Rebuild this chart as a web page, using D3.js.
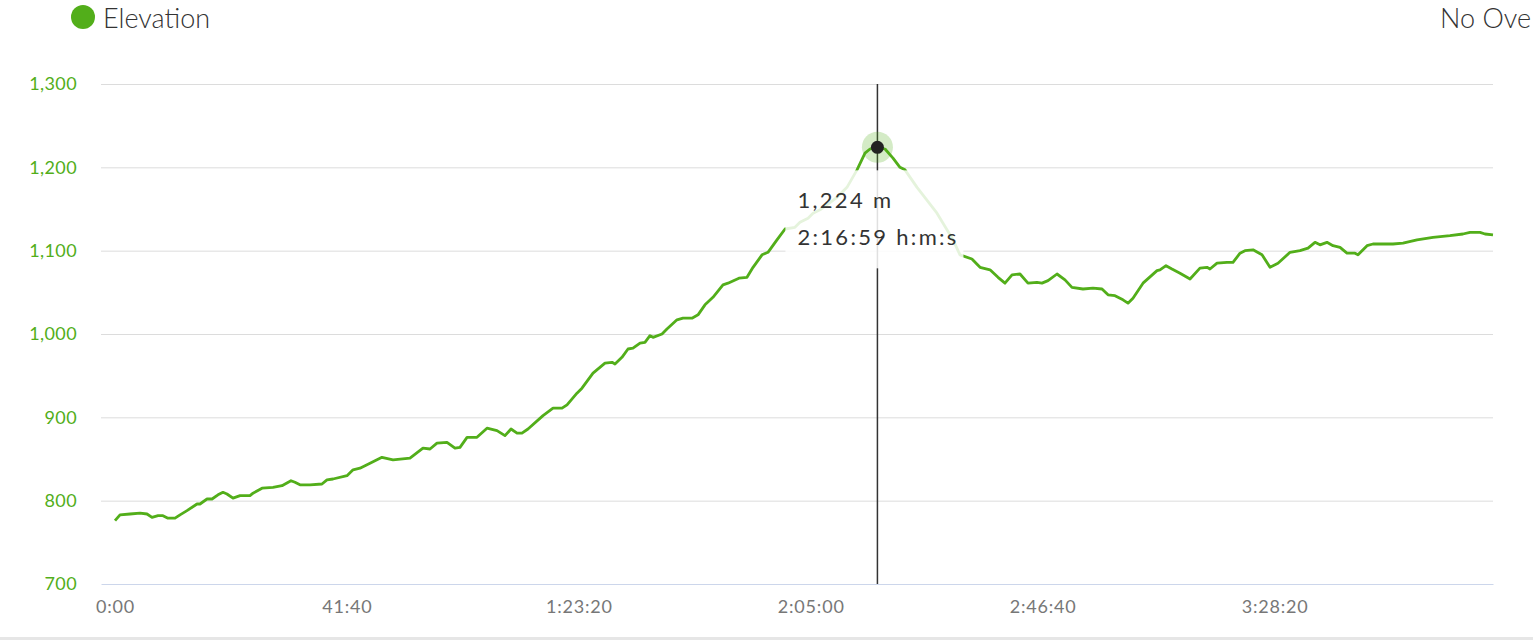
<!DOCTYPE html>
<html>
<head>
<meta charset="utf-8">
<script src="https://cdn.jsdelivr.net/npm/d3@7"></script>
<style>
  body { margin: 0; background: #fff; overflow: hidden; }
  svg { display: block; font-family: Lato, "Open Sans", sans-serif; }
</style>
</head>
<body>
<div id="chart"></div>
<script>
// elapsed time (seconds) and elevation (m)
var times = [0,54,162,270,345,399,464,517,571,647,701,776,884,916,992,1046,1110,1164,1207,1272,
  1348,1455,1488,1585,1703,1800,1897,1940,1994,2102,2231,2285,2350,2501,2566,2641,2749,2878,2997,3180,
  3320,3396,3471,3579,3665,3719,3795,3902,4010,4118,4204,4269,4334,4387,4452,4614,4722,4819,4873,4980,
  5034,5153,5282,5358,5390,5465,5530,5584,5660,5713,5767,5800,5897,5950,6058,6123,6220,6285,6360,6446,
  6554,6608,6726,6813,6878,6975,7039,7136,7223,7330,7384,7471,7525,7600,7675,7783,7891,7999,8085,8139,
  8219,8301,8387,8462,8516,8646,8861,9034,9109,9238,9325,9433,9519,9594,9670,9756,9842,9939,9993,10058,
  10155,10241,10316,10435,10543,10640,10705,10780,10866,10920,10974,11082,11233,11265,11330,11394,11481,11589,11696,11772,
  11804,11880,11987,12052,12128,12181,12268,12365,12451,12537,12667,12774,12861,12936,12990,13065,13130,13206,13281,13367,
  13400,13497,13561,13669,13777,13885,14036,14208,14391,14531,14607,14715,14769,14855];
var elevations = [776,783,784,785,784,780,782,782,779,779,783,788,796,796,802,802,807,810,808,803,
  806,806,809,815,816,818,824,822,819,819,820,825,826,830,837,839,845,852,849,851,
  863,862,869,870,863,864,876,876,887,884,878,886,881,881,886,902,911,911,915,929,
  935,953,965,966,964,972,982,983,989,990,998,996,1000,1006,1017,1019,1019,1023,1035,1044,
  1059,1061,1067,1068,1080,1095,1098,1113,1126,1128,1134,1139,1145,1149,1155,1164,1176,1197,1217,1222,
  1224,1222,1211,1200,1197,1176,1145,1113,1095,1090,1080,1077,1068,1061,1071,1072,1061,1062,1061,1064,
  1072,1065,1056,1054,1055,1054,1047,1046,1041,1037,1043,1061,1076,1077,1082,1078,1073,1066,1079,1080,
  1078,1085,1086,1086,1097,1100,1101,1095,1080,1085,1098,1100,1103,1110,1107,1110,1106,1104,1097,1097,
  1095,1106,1108,1108,1108,1109,1113,1116,1118,1120,1122,1122,1120,1119];

var yTicks = [700, 800, 900, 1000, 1100, 1200, 1300];
var xTicks = [0, 2500, 5000, 7500, 10000, 12500];
var xTickLabels = ["0:00", "41:40", "1:23:20", "2:05:00", "2:46:40", "3:28:20"];
var seriesName = "Elevation";
var overlayLabel = "No Ove";
var hoverTime = 8219, hoverElev = 1224;
var hoverLabels = ["1,224 m", "2:16:59 h:m:s"];

var width = 1533,
    height = 640,
    margin = {top: 84, right: 40, bottom: 56, left: 101},
    green = "#52ae1a";

var data = times.map(function (t, i) { return {t: t, e: elevations[i]}; });

var svg = d3.select("#chart").append("svg")
    .attr("width", width)
    .attr("height", height);

var x = d3.scaleLinear().domain([-151, 14855]).range([margin.left, width - margin.right]),
    y = d3.scaleLinear().domain([700, 1300]).range([height - margin.bottom, margin.top]);

// bottom grey strip
svg.append("rect")
    .attr("x", 0).attr("y", 637)
    .attr("width", width).attr("height", 3)
    .attr("fill", "#e6e6e6");

// legend
var legend = svg.append("g");
legend.append("circle").attr("cx", 83).attr("cy", 17).attr("r", 12).attr("fill", green);
legend.append("text").attr("x", 103).attr("y", 28)
    .attr("font-size", 27).attr("font-weight", 300).attr("fill", "#333")
    .text(seriesName);
legend.append("text").attr("x", width - 2).attr("y", 28)
    .attr("text-anchor", "end")
    .attr("font-size", 27).attr("font-weight", 300).attr("fill", "#333")
    .text(overlayLabel);

// grid + y labels
var yAxis = svg.append("g")
    .attr("transform", "translate(" + margin.left + ",0)")
    .call(d3.axisLeft(y).tickValues(yTicks).tickFormat(d3.format(","))
        .tickSize(-(width - margin.left - margin.right)).tickPadding(24));
yAxis.select(".domain").remove();
yAxis.selectAll(".tick line").attr("stroke", "#dcdcdc");
yAxis.selectAll(".tick").filter(function (d) { return d === 700; }).select("line").attr("stroke", "none");
yAxis.selectAll(".tick text")
    .attr("fill", green).attr("font-size", 18).attr("font-family", "Lato, sans-serif")
    .attr("letter-spacing", 0.4)
    .attr("dy", "0.32em");

// x axis
var xAxis = svg.append("g")
    .attr("transform", "translate(0," + (height - margin.bottom) + ")")
    .call(d3.axisBottom(x).tickValues(xTicks)
        .tickFormat(function (d, i) { return xTickLabels[i]; })
        .tickSize(0).tickPadding(16));
xAxis.select(".domain").attr("stroke", "#ccd6eb");
xAxis.selectAll(".tick text")
    .attr("fill", "#777").attr("font-size", 18).attr("font-family", "Lato, sans-serif")
    .attr("letter-spacing", 0.8);

// elevation line
var line = d3.line()
    .x(function (d) { return x(d.t); })
    .y(function (d) { return y(d.e); });

svg.append("path")
    .datum(data)
    .attr("fill", "none")
    .attr("stroke", green)
    .attr("stroke-width", 2.8)
    .attr("stroke-linejoin", "round")
    .attr("d", line);

// hover state
var px = x(hoverTime), py = y(hoverElev);

svg.append("line")
    .attr("x1", px).attr("x2", px)
    .attr("y1", y(1300)).attr("y2", y(700))
    .attr("stroke", "#333").attr("stroke-width", 1.5);

svg.append("circle").attr("cx", px).attr("cy", py).attr("r", 15.5)
    .attr("fill", green).attr("fill-opacity", 0.25);
svg.append("circle").attr("cx", px).attr("cy", py).attr("r", 6.5)
    .attr("fill", "#222");

var tip = svg.append("g").attr("transform", "translate(" + (px - 92) + "," + (py + 23) + ")");
tip.append("rect")
    .attr("width", 178).attr("height", 98)
    .attr("fill", "#fff").attr("fill-opacity", 0.85);
tip.selectAll("text")
    .data(hoverLabels)
    .enter().append("text")
    .attr("x", 12)
    .attr("y", function (d, i) { return 38 + i * 37; })
    .attr("font-size", 22)
    .attr("letter-spacing", 2.3)
    .attr("fill", "#333")
    .text(function (d) { return d; });
</script>
</body>
</html>
